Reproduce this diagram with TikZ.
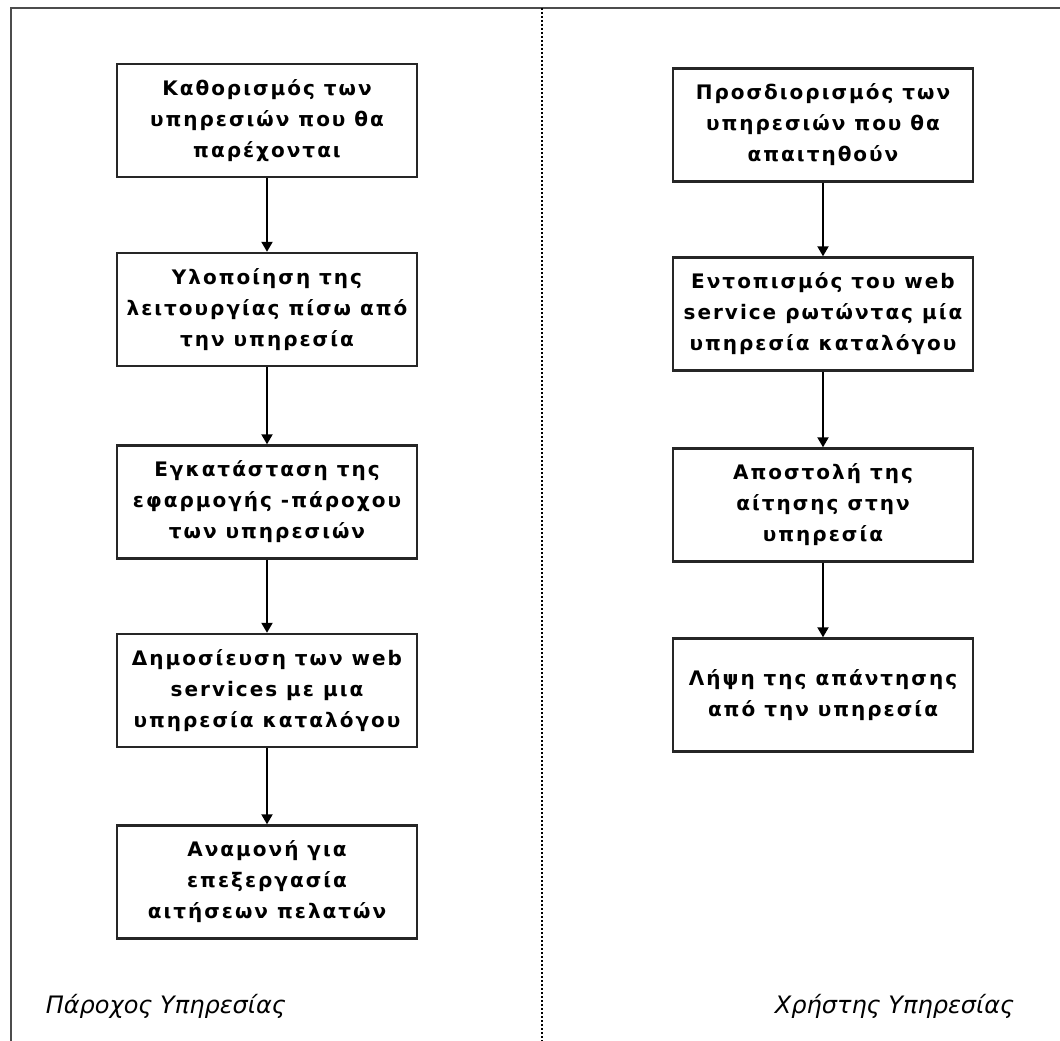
\documentclass[tikz,border=0pt]{standalone}
\usepackage{fontspec}
\setmainfont{DejaVu Sans}
\usetikzlibrary{arrows.meta}

\begin{document}
\begin{tikzpicture}[x=1pt, y=-1pt, line width=1.6pt,
  stepbox/.style={draw=black!85, line width=2.4pt, minimum width=300pt, minimum height=113pt, inner sep=0pt, align=center, font=\fontsize{20}{31}\selectfont\bfseries\addfontfeature{LetterSpace=10}},
  flow/.style={-{Triangle[width=11pt,length=10pt]}, line width=2pt},
  sidelabel/.style={font=\fontsize{24}{28}\selectfont\itshape, inner sep=0pt}]
  \useasboundingbox (0,0) rectangle (1060,1041);
  % Frame and divider
  \coordinate (frame_bl) at (11,1041);
  \coordinate (frame_tl) at (11,8);
  \coordinate (frame_tr) at (1060,8);
  \coordinate (div_top) at (542,8);
  \coordinate (div_bot) at (542,1041);
  \draw[line width=2.6pt, black!70] (frame_bl) -- (frame_tl) -- (frame_tr);
  \draw[line width=1.8pt, dash pattern=on 2pt off 2pt] (div_top) -- (div_bot);
  % Provider steps
  \node[stepbox] at (267,120.5) (prov_a) {Καθορισμός των\\υπηρεσιών που θα\\παρέχονται};
  \node[stepbox] at (267,309.5) (prov_b) {Υλοποίηση της\\λειτουργίας πίσω από\\την υπηρεσία};
  \node[stepbox] at (267,502) (prov_c) {Εγκατάσταση της\\εφαρμογής -πάροχου\\των υπηρεσιών};
  \node[stepbox] at (267,690.5) (prov_d) {Δημοσίευση των web\\services με μια\\υπηρεσία καταλόγου};
  \node[stepbox] at (267,882) (prov_e) {Αναμονή για\\επεξεργασία\\αιτήσεων πελατών};
  % Client steps
  \node[stepbox] at (823,125) (user_a) {Προσδιορισμός των\\υπηρεσιών που θα\\απαιτηθούν};
  \node[stepbox] at (823,314) (user_b) {Εντοπισμός του web\\service ρωτώντας μία\\υπηρεσία καταλόγου};
  \node[stepbox] at (823,505) (user_c) {Αποστολή της\\αίτησης στην\\υπηρεσία};
  \node[stepbox] at (823,695) (user_d) {Λήψη της απάντησης\\από την υπηρεσία};
  % Side captions
  \node[sidelabel, anchor=base west] at (45,1013) (prov_label) {Πάροχος Υπηρεσίας};
  \node[sidelabel, anchor=base east] at (1015,1013) (user_label) {Χρήστης Υπηρεσίας};
  % Arrows
  \draw[flow] (prov_a) -- (prov_b);
  \draw[flow] (prov_b) -- (prov_c);
  \draw[flow] (prov_c) -- (prov_d);
  \draw[flow] (prov_d) -- (prov_e);
  \draw[flow] (user_a) -- (user_b);
  \draw[flow] (user_b) -- (user_c);
  \draw[flow] (user_c) -- (user_d);
\end{tikzpicture}
\end{document}
